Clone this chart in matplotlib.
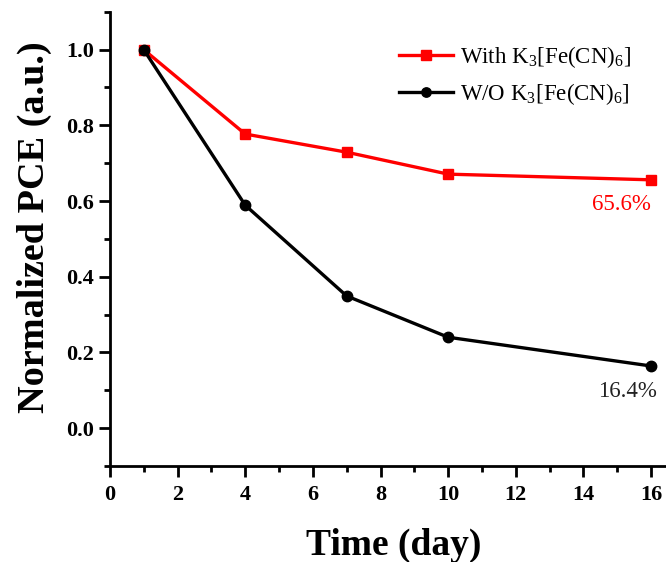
import matplotlib.pyplot as plt
from matplotlib.ticker import MultipleLocator

days = [1, 4, 7, 10, 16]
with_k3 = [1.0, 0.777, 0.729, 0.671, 0.656]
without_k3 = [1.0, 0.589, 0.349, 0.240, 0.164]

plt.rcParams['font.family'] = ['Liberation Serif', 'DejaVu Serif']
plt.rcParams['mathtext.fontset'] = 'custom'
plt.rcParams['mathtext.rm'] = 'Liberation Serif'

fig = plt.figure(figsize=(6.66, 5.62), dpi=100)
ax = fig.add_axes([0.165, 0.171, 0.835, 0.808])

ax.plot(days, with_k3, color='#ff0000', lw=2.4, marker='s', ms=7.5,
        label=r'With K$_3$[Fe(CN)$_6$]')
ax.plot(days, without_k3, color='black', lw=2.4, marker='o', ms=7.5,
        label=r'W/O K$_3$[Fe(CN)$_6$]')

ax.annotate('65.6%', (16, with_k3[-1]), xytext=(0, -10), textcoords='offset points',
            color='#ff0000', fontsize=16.5, ha='right', va='top')
ax.annotate('16.4%', (16, without_k3[-1]), xytext=(4, -11), textcoords='offset points',
            color='#222222', fontsize=16.5, ha='right', va='top')

ax.set_xlim(0, 16.44)
ax.set_ylim(-0.1, 1.1)
ax.xaxis.set_major_locator(MultipleLocator(2))
ax.xaxis.set_minor_locator(MultipleLocator(1))
ax.yaxis.set_minor_locator(MultipleLocator(0.1))
ax.set_yticks([0.0, 0.2, 0.4, 0.6, 0.8, 1.0])
ax.set_yticklabels(['0.0', '0.2', '0.4', '0.6', '0.8', '1.0'])

for s in ['top', 'right']:
    ax.spines[s].set_visible(False)
for s in ['left', 'bottom']:
    ax.spines[s].set_linewidth(2)

ax.tick_params(which='major', direction='out', length=8, width=2, labelsize=16)
ax.tick_params(axis='x', which='major', pad=6)
ax.tick_params(which='minor', direction='out', length=4, width=2)
for lbl in ax.get_xticklabels() + ax.get_yticklabels():
    lbl.set_fontweight('bold')

ax.set_xlabel('Time (day)', fontsize=27, fontweight='bold', labelpad=16, x=0.51)
ax.set_ylabel('Normalized PCE (a.u.)', fontsize=27.5, fontweight='bold', labelpad=10, y=0.525)

fig.legend(loc='upper left', frameon=False, fontsize=16.5, handlelength=2.35,
           handletextpad=0.3, labelspacing=0.5, borderpad=0, borderaxespad=0,
           markerscale=0.9, bbox_to_anchor=(399 / 666, 1 - 44 / 562))

fig.savefig('out.png', dpi=100)
